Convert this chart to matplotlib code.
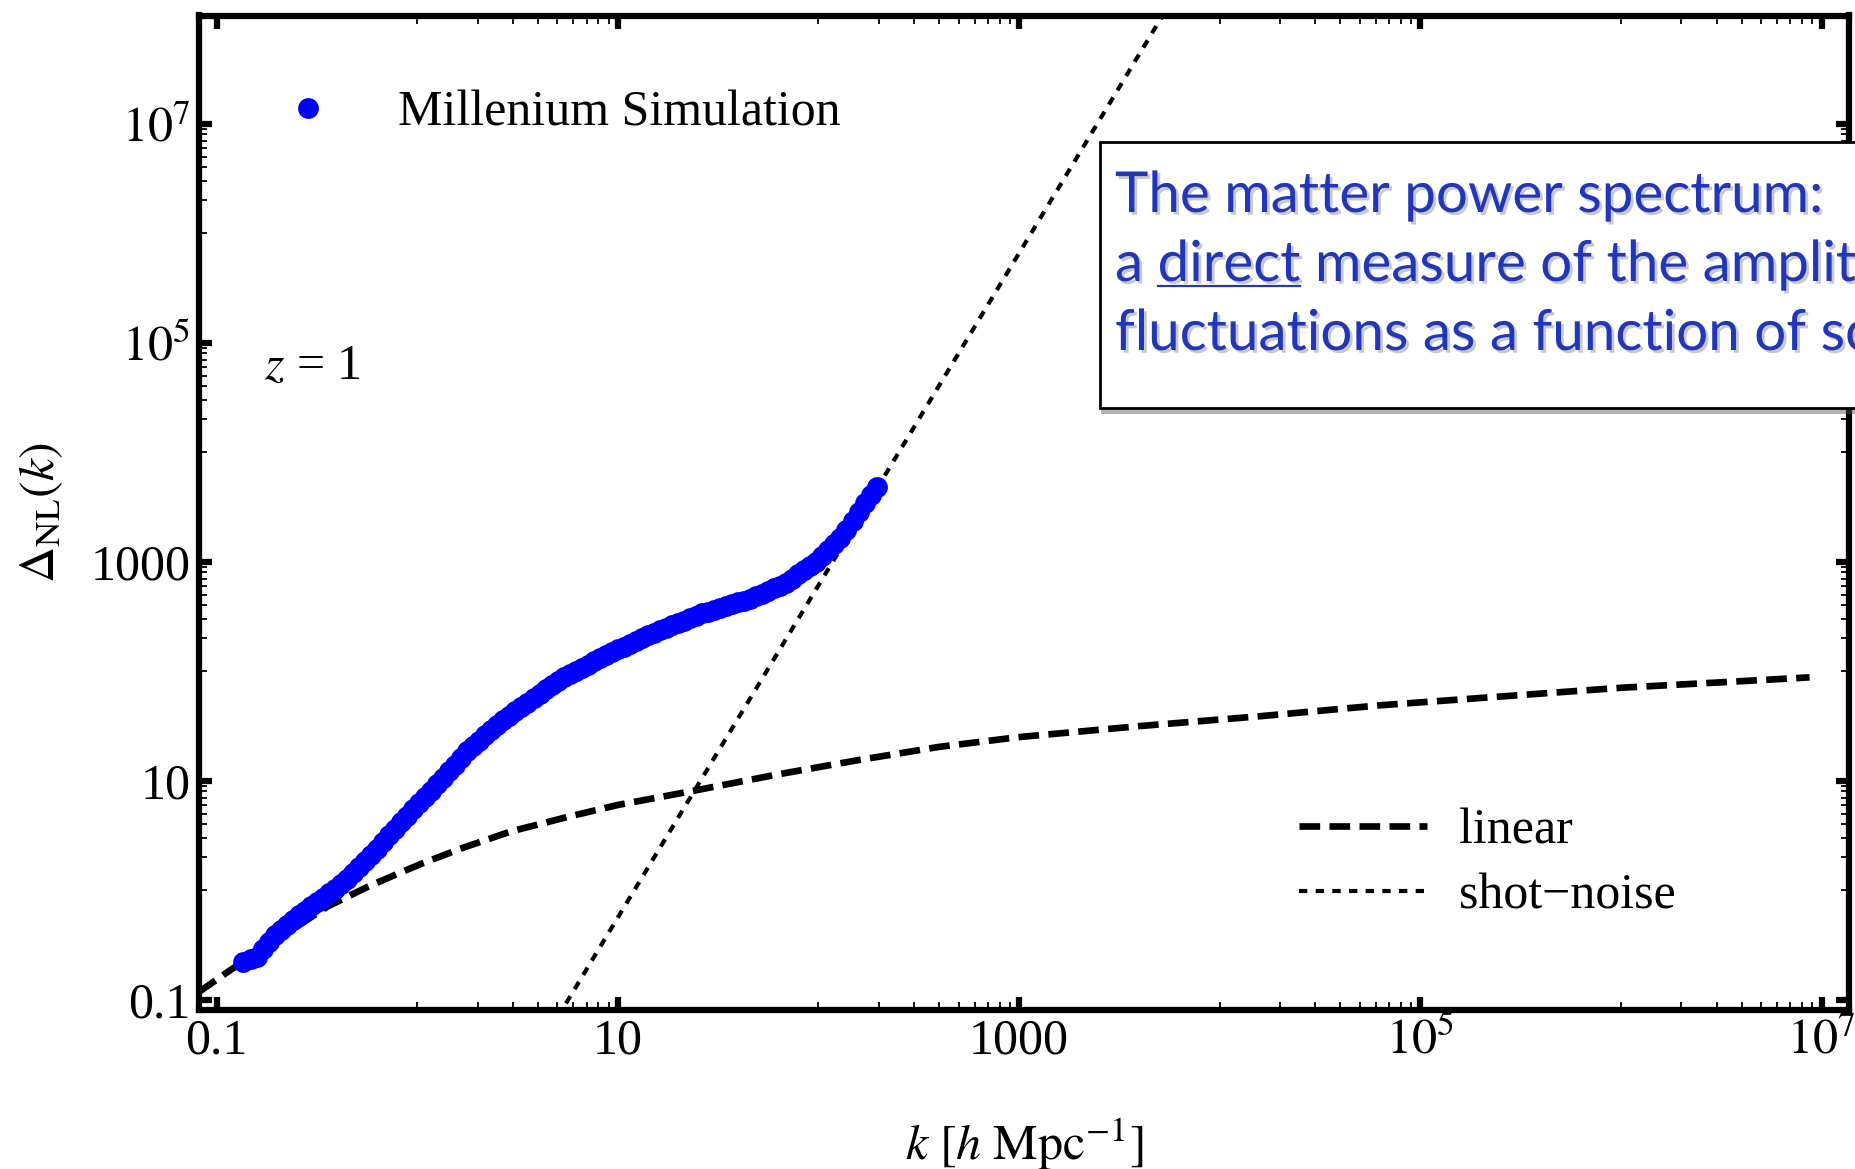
import numpy as np
import matplotlib
matplotlib.use("Agg")
import matplotlib.pyplot as plt
from matplotlib import patheffects
from matplotlib.lines import Line2D
from matplotlib.patches import Rectangle
from matplotlib.ticker import FixedLocator, FixedFormatter, NullFormatter

plt.rcParams['font.family'] = ['Liberation Serif', 'DejaVu Serif']
plt.rcParams['mathtext.fontset'] = 'stix'

# === Data (log10 values)
# Millenium Simulation points, z = 1
log_k_sim = [-0.866, -0.830, -0.800, -0.770, -0.740, -0.710, -0.680, -0.650, -0.620, -0.590,
             -0.560, -0.530, -0.500, -0.470, -0.440, -0.410, -0.380, -0.350, -0.320, -0.290,
             -0.260, -0.230, -0.200, -0.170, -0.140, -0.110, -0.080, -0.050, -0.020, 0.010,
             0.040, 0.070, 0.100, 0.130, 0.160, 0.190, 0.220, 0.250, 0.280, 0.310,
             0.340, 0.370, 0.400, 0.430, 0.460, 0.490, 0.520, 0.550, 0.580, 0.610,
             0.640, 0.670, 0.700, 0.730, 0.760, 0.790, 0.820, 0.850, 0.880, 0.910,
             0.940, 0.970, 1.000, 1.030, 1.060, 1.090, 1.120, 1.150, 1.180, 1.210,
             1.240, 1.270, 1.300, 1.330, 1.360, 1.390, 1.420, 1.450, 1.480, 1.510,
             1.540, 1.570, 1.600, 1.630, 1.660, 1.690, 1.720, 1.750, 1.780, 1.810,
             1.840, 1.870, 1.900, 1.930, 1.960, 1.990, 2.020, 2.050, 2.080, 2.110,
             2.140, 2.170, 2.200, 2.230, 2.260, 2.290]
log_delta_sim = [-0.650, -0.626, -0.605, -0.539, -0.473, -0.411, -0.364, -0.317, -0.270, -0.225,
                 -0.186, -0.146, -0.107, -0.066, -0.025, 0.016, 0.057, 0.100, 0.155, 0.210,
                 0.266, 0.321, 0.381, 0.442, 0.502, 0.563, 0.624, 0.682, 0.740, 0.797,
                 0.854, 0.912, 0.969, 1.029, 1.089, 1.149, 1.210, 1.270, 1.319, 1.367,
                 1.416, 1.465, 1.513, 1.553, 1.593, 1.634, 1.674, 1.714, 1.755, 1.795,
                 1.835, 1.876, 1.916, 1.945, 1.974, 2.004, 2.033, 2.062, 2.092, 2.121,
                 2.149, 2.175, 2.200, 2.226, 2.252, 2.278, 2.303, 2.329, 2.354, 2.376,
                 2.398, 2.420, 2.442, 2.464, 2.486, 2.508, 2.530, 2.546, 2.563, 2.579,
                 2.596, 2.612, 2.629, 2.645, 2.662, 2.684, 2.708, 2.733, 2.758, 2.783,
                 2.809, 2.847, 2.886, 2.924, 2.963, 3.001, 3.049, 3.105, 3.160, 3.216,
                 3.291, 3.373, 3.456, 3.535, 3.609, 3.683]

# linear theory
log_k_lin = [-1.09, -0.93, -0.80, -0.65, -0.45, -0.25, -0.10, 0.03, 0.23, 0.47,
             0.77, 1.00, 1.35, 1.80, 2.20, 2.60, 3.00, 3.60, 4.20, 4.80,
             5.40, 6.00, 6.50, 6.94]
log_delta_lin = [-0.93, -0.726, -0.57, -0.39, -0.15, 0.03, 0.15, 0.25, 0.39, 0.54,
                 0.68, 0.78, 0.90, 1.06, 1.19, 1.31, 1.40, 1.50, 1.59, 1.69,
                 1.77, 1.85, 1.90, 1.945]

# shot-noise (straight line in log-log)
k_shot = [5.0, 6.0e3]
delta_shot = [0.069, 1.5e8]

major_ticks = [0.1, 10, 1e3, 1e5, 1e7]
major_labels = ['0.1', '10', '1000', r'$10^{5}$', r'$10^{7}$']
minor_ticks = [m * 10.0**e for e in (0, 2, 4, 6) for m in range(1, 10)]

box_lines = ["The matter power spectrum:",
             "a direct measure of the amplitude of",
             "fluctuations as a function of scale"]

# === Figure
W, H = 1856, 1169
fig = plt.figure(figsize=(W / 100, H / 100), dpi=100)
ax = fig.add_axes([199 / W, 1 - 1010 / H, 1650 / W, 994.5 / H])

k_sim = 10 ** np.array(log_k_sim)
delta_sim = 10 ** np.array(log_delta_sim)
k_lin = 10 ** np.array(log_k_lin)
delta_lin = 10 ** np.array(log_delta_lin)

lin_line, = ax.plot(k_lin, delta_lin, color='black', lw=4.8, dashes=(3.1, 1.4),
                    label='linear', zorder=2)
shot_line, = ax.plot(k_shot, delta_shot, color='black', lw=3.0, dashes=(2.0, 2.0),
                     label='shot\u2212noise', zorder=2)
sim_line, = ax.plot(k_sim, delta_sim, 'o', color='#0000ff', ms=15, mec='none',
                    label='Millenium Simulation', zorder=3)

ax.set_xscale('log')
ax.set_yscale('log')
ax.set_xlim(0.0818, 1.37e7)
ax.set_ylim(0.081, 9.7e7)

for axis in (ax.xaxis, ax.yaxis):
    axis.set_major_locator(FixedLocator(major_ticks))
    axis.set_major_formatter(FixedFormatter(major_labels))
    axis.set_minor_locator(FixedLocator(minor_ticks))
    axis.set_minor_formatter(NullFormatter())

ax.tick_params(which='major', direction='in', length=9.5, width=4.5, top=True, right=True,
               labelsize=36, pad=6)
ax.tick_params(which='minor', direction='in', length=5.5, width=1.3, top=True, right=True)
for sp in ax.spines.values():
    sp.set_linewidth(4.5)

ax.set_xlabel(r'$k\ [h\ \mathrm{Mpc}^{-1}]$', fontsize=36)
ax.xaxis.set_label_coords(0.5, -0.151)
ax.xaxis.label.set_va('baseline')
ax.set_ylabel(r'$\Delta_{\mathrm{NL}}(k)$', fontsize=36)
ax.yaxis.set_label_coords(-0.0958, 0.5)
ax.yaxis.label.set_va('center')

ax.text(0.0394, 0.6345, r'$z$ = 1', transform=ax.transAxes, fontsize=36, va='baseline')

leg1 = ax.legend(handles=[sim_line], loc='center left', bbox_to_anchor=(0.0358, 0.9015),
                 frameon=False, fontsize=36, handlelength=2.0, handletextpad=0.8,
                 borderpad=0, borderaxespad=0, markerscale=1.0, numpoints=1)
ax.add_artist(leg1)
ax.legend(handles=[lin_line, shot_line], loc='upper left', bbox_to_anchor=(0.6667, 0.2031),
          frameon=False, fontsize=36, handlelength=2.56, handletextpad=0.64,
          labelspacing=0.36, borderpad=0, borderaxespad=0)

# === Text box (runs past the right edge)
blue = '#2236b8'
box = Rectangle((1100 / W, 1 - 408 / H), 0.6, 266 / H, transform=fig.transFigure,
                facecolor='white', edgecolor='black', lw=2, zorder=10,
                path_effects=[patheffects.SimplePatchShadow(offset=(1, -4), shadow_rgbFace='0.35', alpha=0.45),
                              patheffects.Normal()])
fig.add_artist(box)

renderer = fig.canvas.get_renderer()
shadow = [patheffects.SimplePatchShadow(offset=(2, -2), shadow_rgbFace='0.3', alpha=0.3),
          patheffects.Normal()]
baselines = [212, 281, 350]
texts = []
for line, yb in zip(box_lines, baselines):
    t = fig.text(1115 / W, 1 - yb / H, line, family='Lato', fontsize=40, color=blue,
                 va='baseline', ha='left', zorder=11, path_effects=shadow)
    texts.append(t)
w0 = texts[0].get_window_extent(renderer).width
fs = 40 * 708 / w0
for t in texts:
    t.set_fontsize(fs)

# underline "direct"
def text_width(s):
    tmp = fig.text(0, 0, s, family='Lato', fontsize=fs)
    w = tmp.get_window_extent(renderer).width
    tmp.remove()
    return w

x_end = 1115 + text_width("a direct")
x_start = x_end - text_width("direct")
y_ul = H - (baselines[1] + 5)
fig.add_artist(Line2D([x_start / W, x_end / W], [y_ul / H, y_ul / H], transform=fig.transFigure,
                      color=blue, lw=1.6, zorder=11))

fig.savefig("out.png", dpi=100)
